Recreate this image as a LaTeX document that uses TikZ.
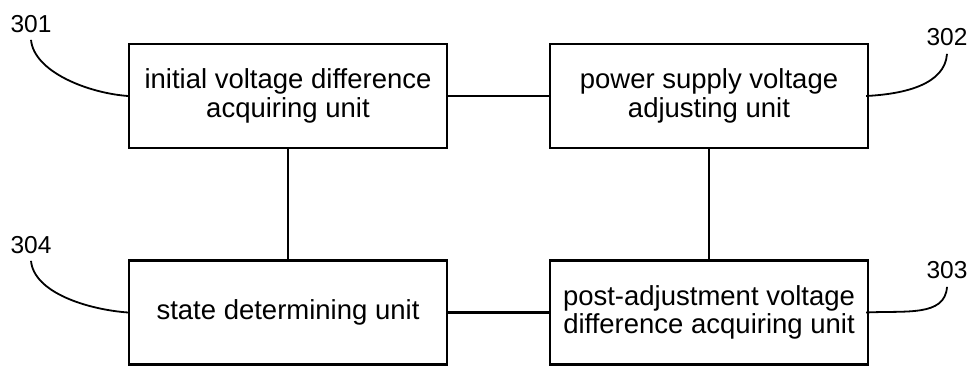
\documentclass[tikz,border=0pt]{standalone}
\usepackage{fontspec}
\setmainfont{Liberation Sans}
\begin{document}
\begin{tikzpicture}[x=1pt,y=-1pt,
  unitbox/.style={draw, line width=2.2pt, minimum width=318pt, minimum height=104pt,
    align=center, inner sep=0pt, font=\fontsize{27.5}{28.5}\selectfont},
  reflabel/.style={inner sep=0pt, font=\fontsize{24.5}{26}\selectfont},
  link/.style={line width=2.2pt},
  leader/.style={line width=1.8pt}]
\useasboundingbox (0,0) rectangle (978,366);
% functional units
\node[unitbox] (u301) at (288,96) {initial voltage difference\\acquiring unit};
\node[unitbox] (u302) at (709,96) {power supply voltage\\adjusting unit};
\node[unitbox] (u303) at (709,312.5) {post-adjustment voltage\\difference acquiring unit};
\node[unitbox] (u304) at (288,312.5) {state determining unit};
% reference numerals
\node[reflabel] (n301) at (31,24) {301};
\node[reflabel] (n302) at (947,37) {302};
\node[reflabel] (n303) at (947,270) {303};
\node[reflabel] (n304) at (31,245) {304};
% connections between units
\draw[link] (u301.east) -- (u302.west);
\draw[link] (u302.south) -- (u303.north);
\draw[link] (u303.west) -- (u304.east);
\draw[link] (u304.north) -- (u301.south);
% leader lines
\draw[leader] ([yshift=-7pt]n301.south) .. controls +(3,32) and +(-40,-3) .. (u301.west);
\draw[leader] ([yshift=-7pt]n304.south) .. controls +(3,32) and +(-40,-3) .. (u304.west);
\draw[leader] ([yshift=-8pt]n302.south) .. controls +(-2,30) and +(40,-2) .. ([xshift=-3pt]u302.east);
\draw[leader] ([yshift=-8pt]n303.south) .. controls +(-2,30) and +(40,-2) .. ([xshift=-3pt]u303.east);
\end{tikzpicture}
\end{document}
